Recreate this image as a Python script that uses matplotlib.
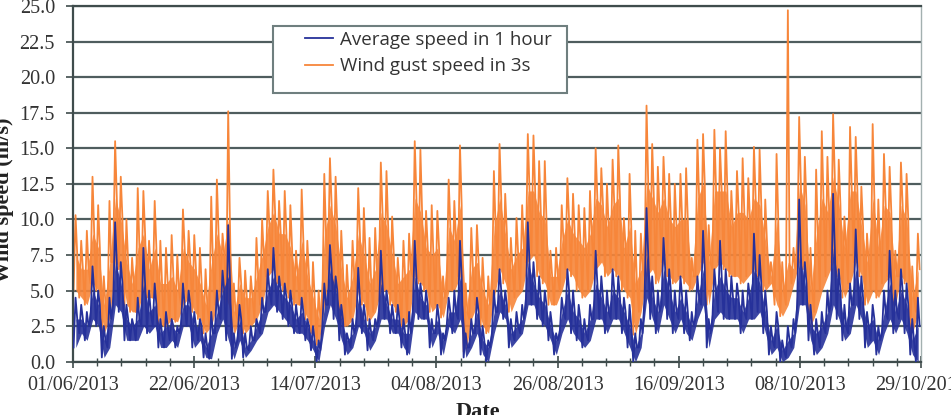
import numpy as np
import matplotlib
matplotlib.use('Agg')
import matplotlib.pyplot as plt
from matplotlib.patches import Rectangle

# readings per day, day 0 = 01/06/2013: night low, afternoon high, evening level
gust_hi = [10.3, 8.5, 9.2, 13.0, 11.0, 6.0, 11.3, 15.5, 13.0, 10.0,
           7.3, 12.2, 12.0, 8.5, 11.3, 8.5, 8.0, 8.9, 7.5, 10.7,
           9.2, 8.9, 8.0, 6.5, 11.6, 12.8, 9.0, 17.6, 5.5, 7.3,
           6.4, 6.0, 8.7, 10.0, 12.0, 13.5, 11.3, 12.0, 11.0, 7.8,
           12.1, 8.5, 7.0, 5.0, 13.2, 14.3, 13.0, 9.2, 6.8, 8.5,
           12.2, 10.8, 8.7, 9.4, 14.0, 13.4, 10.2, 7.3, 8.5, 9.0,
           15.5, 14.9, 10.6, 11.0, 10.6, 6.0, 12.8, 11.3, 15.2, 5.5,
           9.4, 9.6, 7.3, 6.0, 13.4, 15.3, 11.8, 8.7, 10.1, 11.0,
           16.0, 15.9, 14.1, 14.1, 7.8, 8.0, 11.0, 12.9, 11.8, 11.0,
           10.8, 12.0, 15.0, 13.6, 12.5, 14.2, 15.2, 10.1, 13.2, 9.2,
           9.0, 18.0, 15.3, 13.7, 14.4, 13.2, 12.5, 13.2, 13.6, 7.3,
           15.6, 16.0, 9.6, 16.3, 15.0, 16.2, 12.0, 13.4, 14.3, 12.9,
           15.1, 14.9, 11.4, 7.0, 14.6, 7.0, 24.7, 8.0, 17.2, 14.4,
           8.0, 13.5, 16.2, 14.4, 17.4, 14.2, 10.2, 16.5, 15.8, 12.3,
           9.0, 16.7, 11.4, 14.6, 13.7, 7.8, 14.0, 13.2, 6.7, 9.0]
gust_lo = [5.0, 4.5, 4.0, 5.5, 5.0, 2.0, 3.0, 7.0, 6.5, 4.0,
           3.5, 3.5, 5.0, 4.5, 4.5, 2.6, 2.5, 3.0, 2.8, 4.0,
           4.5, 3.5, 3.0, 2.0, 2.5, 4.0, 5.0, 4.0, 1.9, 3.0,
           2.0, 2.5, 3.0, 4.0, 6.0, 6.5, 5.5, 5.0, 4.5, 4.0,
           4.0, 3.0, 2.0, 1.2, 4.0, 6.5, 5.0, 2.6, 2.5, 3.0,
           5.0, 4.0, 2.9, 3.5, 5.0, 5.0, 4.0, 3.5, 2.5, 3.0,
           6.0, 5.5, 5.0, 3.5, 4.0, 3.1, 5.0, 5.0, 6.0, 0.7,
           3.0, 4.0, 2.5, 2.0, 4.5, 6.5, 5.5, 3.5, 4.5, 5.0,
           7.0, 7.5, 6.0, 5.5, 4.0, 4.0, 5.0, 6.5, 6.0, 5.0,
           4.5, 5.0, 6.5, 7.0, 6.0, 6.5, 6.0, 5.0, 4.5, 1.9,
           3.5, 6.0, 6.5, 5.5, 7.0, 6.0, 5.5, 6.0, 5.5, 5.0,
           6.0, 7.0, 4.0, 6.5, 7.0, 6.5, 6.0, 6.0, 5.5, 6.0,
           6.5, 6.0, 5.0, 5.5, 4.0, 3.2, 4.0, 5.5, 7.0, 6.5,
           2.5, 3.5, 5.0, 6.0, 7.0, 6.0, 4.5, 5.5, 7.0, 6.0,
           4.0, 5.0, 4.5, 5.5, 6.0, 4.0, 6.0, 5.5, 2.0, 3.5]
gust_mid = [7.5, 6.5, 6.5, 9.0, 8.0, 4.0, 7.0, 11.5, 10.0, 7.0,
            5.5, 8.0, 9.0, 6.5, 8.0, 5.5, 5.5, 6.0, 5.0, 8.0,
            7.0, 6.5, 5.5, 4.0, 7.0, 9.0, 7.5, 10.0, 3.5, 5.5,
            4.5, 4.5, 6.0, 7.5, 9.5, 10.5, 9.0, 9.0, 8.0, 6.0,
            8.5, 6.0, 4.5, 3.0, 9.0, 11.0, 9.5, 6.5, 4.5, 6.0,
            9.0, 7.5, 5.5, 6.5, 10.5, 9.5, 7.5, 5.5, 6.0, 6.5,
            11.5, 10.5, 8.0, 7.5, 8.0, 4.5, 9.5, 8.5, 11.0, 3.5,
            6.5, 7.0, 5.0, 4.0, 9.5, 11.5, 9.0, 6.5, 7.5, 8.0,
            12.0, 12.0, 10.5, 10.0, 6.0, 6.0, 8.5, 10.0, 9.0, 8.5,
            8.0, 9.0, 11.5, 11.0, 9.5, 11.0, 11.5, 8.0, 9.5, 5.5,
            6.5, 12.5, 11.5, 10.5, 11.5, 10.0, 9.5, 10.0, 10.0, 6.0,
            11.5, 12.5, 7.0, 12.0, 12.0, 12.0, 9.5, 10.5, 10.5, 10.0,
            11.5, 11.0, 8.5, 6.0, 10.0, 5.0, 7.0, 6.5, 12.5, 11.0,
            5.0, 9.0, 11.5, 10.5, 13.0, 11.0, 8.0, 12.0, 12.0, 9.5,
            7.0, 11.5, 8.0, 11.0, 10.5, 6.0, 11.0, 10.0, 4.5, 6.5]
avg_hi = [4.5, 4.0, 3.5, 6.7, 5.0, 2.5, 4.5, 9.8, 7.0, 4.0,
          3.0, 4.5, 8.0, 5.0, 5.5, 3.0, 3.5, 3.0, 2.5, 5.5,
          5.0, 3.5, 3.0, 2.0, 3.5, 5.0, 6.4, 9.6, 2.0, 4.0,
          2.0, 2.5, 3.0, 4.5, 6.5, 8.0, 6.0, 5.5, 5.0, 4.0,
          4.5, 3.0, 2.5, 1.5, 5.5, 8.2, 6.0, 4.0, 2.0, 3.0,
          6.6, 4.0, 3.0, 3.0, 7.8, 5.0, 4.0, 4.0, 3.0, 3.5,
          8.5, 5.5, 5.0, 3.0, 4.0, 2.0, 4.5, 5.0, 8.5, 2.0,
          3.0, 4.5, 2.5, 1.5, 5.0, 6.5, 5.0, 3.0, 3.5, 4.0,
          9.8, 7.0, 6.0, 5.0, 3.5, 2.0, 4.5, 6.5, 5.0, 4.0,
          3.0, 4.0, 7.8, 6.0, 5.0, 6.5, 6.0, 4.5, 4.0, 2.0,
          3.0, 10.8, 6.0, 5.0, 8.7, 6.5, 5.0, 6.0, 5.0, 3.5,
          6.0, 9.2, 3.0, 6.5, 8.5, 6.5, 6.0, 5.5, 5.0, 5.5,
          9.0, 7.5, 5.0, 2.5, 3.5, 1.5, 2.5, 3.0, 11.4, 7.0,
          4.0, 3.0, 3.5, 5.0, 11.8, 6.5, 4.0, 5.5, 9.3, 6.0,
          3.5, 4.0, 2.5, 5.0, 7.8, 5.0, 6.5, 5.5, 3.0, 4.5]
avg_lo = [1.0, 2.0, 1.5, 3.0, 2.5, 0.3, 1.0, 4.0, 3.5, 1.5,
          1.5, 1.5, 2.5, 2.0, 2.5, 1.0, 1.0, 1.5, 1.0, 2.5,
          2.5, 1.0, 1.5, 0.3, 0.2, 2.0, 3.0, 1.5, 0.2, 1.5,
          0.3, 0.8, 1.5, 2.0, 3.5, 4.0, 3.5, 3.0, 2.5, 2.0,
          2.0, 1.5, 0.8, 0.0, 2.5, 4.0, 3.0, 1.5, 0.5, 1.0,
          2.5, 2.0, 0.8, 1.5, 3.0, 3.0, 2.0, 2.0, 1.0, 0.5,
          3.5, 3.0, 3.0, 1.0, 2.0, 0.5, 2.5, 2.0, 3.0, 0.3,
          1.0, 2.0, 0.5, 0.0, 2.0, 3.5, 3.0, 1.0, 1.5, 2.0,
          4.0, 4.0, 3.0, 2.5, 1.5, 0.5, 2.0, 3.0, 2.0, 1.5,
          1.0, 1.5, 3.0, 3.0, 2.0, 3.0, 3.0, 2.0, 1.0, 0.0,
          1.0, 4.5, 3.0, 2.0, 4.0, 3.0, 2.0, 3.0, 2.0, 1.5,
          3.0, 4.0, 1.0, 3.0, 3.5, 3.0, 3.0, 3.0, 2.0, 3.0,
          3.0, 3.5, 2.0, 0.5, 1.0, 0.0, 0.3, 1.0, 4.0, 4.0,
          1.5, 0.5, 1.0, 2.0, 4.0, 3.0, 1.5, 2.0, 4.0, 3.0,
          1.0, 1.5, 0.5, 2.0, 3.0, 2.0, 3.0, 2.0, 0.5, 0.0]
avg_mid = [3.0, 3.0, 2.5, 5.0, 4.0, 1.5, 3.0, 7.0, 5.5, 3.0,
           2.5, 3.0, 5.5, 3.5, 4.0, 2.0, 2.5, 2.5, 2.0, 4.0,
           4.0, 2.5, 2.5, 1.0, 2.0, 3.5, 5.0, 6.0, 1.0, 3.0,
           1.0, 1.5, 2.5, 3.5, 5.0, 6.0, 5.0, 4.5, 4.0, 3.0,
           3.5, 2.5, 1.5, 0.8, 4.0, 6.5, 5.0, 3.0, 1.5, 2.0,
           4.5, 3.0, 2.0, 2.5, 5.5, 4.0, 3.0, 3.0, 2.0, 2.0,
           6.0, 4.5, 4.0, 2.0, 3.0, 1.5, 3.5, 3.5, 6.0, 1.0,
           2.0, 3.5, 1.5, 1.0, 3.5, 5.0, 4.0, 2.0, 2.5, 3.0,
           7.0, 5.5, 4.5, 4.0, 2.5, 1.5, 3.5, 5.0, 3.5, 3.0,
           2.0, 3.0, 5.5, 4.5, 3.5, 5.0, 4.5, 3.5, 2.5, 1.0,
           2.0, 7.5, 4.5, 3.5, 6.5, 5.0, 3.5, 4.5, 3.5, 2.5,
           4.5, 6.5, 2.0, 5.0, 6.0, 5.0, 4.5, 4.5, 3.5, 4.5,
           6.5, 5.5, 3.5, 1.5, 2.5, 0.8, 1.5, 2.0, 7.5, 5.5,
           2.5, 2.0, 2.5, 3.5, 8.0, 5.0, 2.5, 4.0, 6.5, 4.5,
           2.5, 3.0, 1.5, 3.5, 5.5, 3.5, 5.0, 4.0, 1.5, 2.5]

date_labels = ['01/06/2013', '22/06/2013', '14/07/2013', '04/08/2013',
               '26/08/2013', '16/09/2013', '08/10/2013', '29/10/2013']

blue = '#26319a'
orange = '#f7863a'

days = np.arange(len(gust_hi))
t = np.column_stack([days + 0.1, days + 0.45, days + 0.75]).ravel()
gust = np.column_stack([gust_lo, gust_hi, gust_mid]).ravel()
avg = np.column_stack([avg_lo, avg_hi, avg_mid]).ravel()

fig = plt.figure(figsize=(9.51, 4.15), dpi=100)
ax = fig.add_axes([73 / 951, 1 - 361.7 / 415, 848 / 951, 355.7 / 415])

# dense core of the hourly records, then the peaks as lines
ax.fill_between(days + 0.5, gust_lo, gust_mid, color=orange, lw=0, alpha=0.9, zorder=2)
ax.fill_between(days + 0.5, avg_lo, avg_mid, color=blue, lw=0, alpha=0.9, zorder=3)
ax.plot(t, avg, color=blue, lw=1.3, zorder=3, label='Average speed in 1 hour')
ax.plot(t, gust, color=orange, lw=1.3, zorder=2, label='Wind gust speed in 3s')

ax.set_xlim(0, 150)
ax.set_ylim(0, 25)
ax.set_yticks(np.arange(0, 25.1, 2.5))
ax.set_yticklabels(['%.1f' % v for v in np.arange(0, 25.1, 2.5)])
ax.set_xticks(np.linspace(0, 150, 8))
ax.set_xticklabels(date_labels)
ax.set_xticks(np.linspace(0, 150, 36), minor=True)

ax.grid(axis='y', color='#4f5d5e', lw=1.6)
ax.set_axisbelow(True)

for s in ['left', 'bottom', 'top']:
    ax.spines[s].set_color('#3f4c4c')
    ax.spines[s].set_linewidth(1.6)
ax.spines['right'].set_color('#a3b0b0')
ax.spines['right'].set_linewidth(1.0)

ax.tick_params(axis='y', direction='out', length=5, width=1.2, color='#3f4c4c',
               pad=8, labelcolor='#333333')
ax.tick_params(axis='x', which='major', direction='inout', length=9, width=1.2,
               color='#3f4c4c', pad=6, labelcolor='#333333')
ax.tick_params(axis='x', which='minor', direction='inout', length=6, width=1.0,
               color='#3f4c4c')
for lab in ax.get_xticklabels() + ax.get_yticklabels():
    lab.set_fontfamily('Liberation Serif')
    lab.set_fontsize(14.5)

# legend box drawn by hand so the padding matches
box = Rectangle((273 / 951, 1 - 93 / 415), 294 / 951, 67 / 415, transform=fig.transFigure,
                facecolor='white', edgecolor='#6f7f7f', lw=1.5, zorder=4, clip_on=False)
ax.add_patch(box)
leg = ax.legend(loc='upper left', bbox_to_anchor=((305 - 73) / 848, (361.7 - 31) / 355.7),
                borderaxespad=0, borderpad=0, frameon=False,
                prop={'family': 'Open Sans', 'size': 13.5}, handlelength=1.5,
                handletextpad=0.35, labelspacing=0.45)
leg.set_zorder(5)
for txt in leg.get_texts():
    txt.set_color('#333333')

fig.text(0.004, 0.518, 'Wind speed (m/s)', rotation=90, ha='center', va='center',
         family='Liberation Serif', fontweight='bold', fontsize=16, color='#222222')
fig.text(0.503, 0.031, 'Date', ha='center', va='top',
         family='Liberation Serif', fontweight='bold', fontsize=16, color='#222222')

plt.savefig('out.png', dpi=100)
